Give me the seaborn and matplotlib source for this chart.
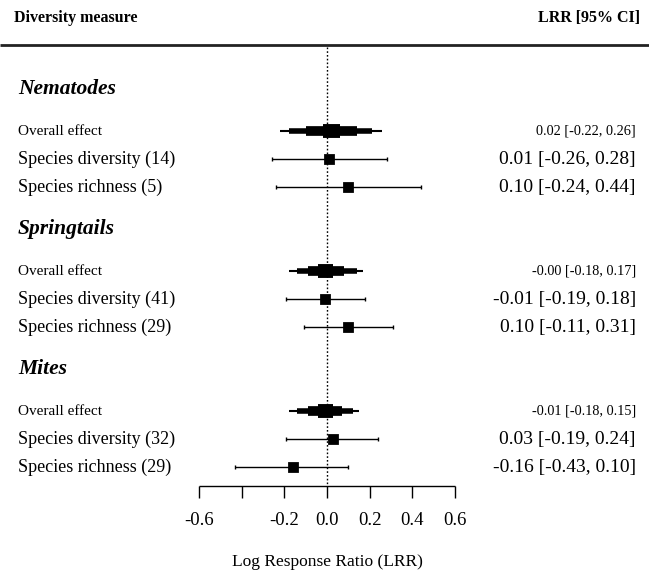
import matplotlib
matplotlib.use("Agg")
import matplotlib.pyplot as plt
import seaborn as sns
import pandas as pd

# data
groups = ["Nematodes", "Springtails", "Mites"]
row_labels = ["Species diversity (14)", "Species richness (5)",
              "Species diversity (41)", "Species richness (29)",
              "Species diversity (32)", "Species richness (29)"]
row_group = ["Nematodes", "Nematodes", "Springtails", "Springtails", "Mites", "Mites"]
row_est = [0.01, 0.10, -0.01, 0.10, 0.03, -0.16]
row_lo = [-0.26, -0.24, -0.19, -0.11, -0.19, -0.43]
row_hi = [0.28, 0.44, 0.18, 0.31, 0.24, 0.10]

overall_est = [0.02, -0.00, -0.01]
overall_lo = [-0.22, -0.18, -0.18]
overall_hi = [0.26, 0.17, 0.15]
overall_txt = ["0.02 [-0.22, 0.26]", "-0.00 [-0.18, 0.17]", "-0.01 [-0.18, 0.15]"]
# inner bands of the overall-effect shapes (lo, hi), widest to narrowest
overall_bands = [
    [(-0.18, 0.21), (-0.10, 0.14), (-0.02, 0.06)],
    [(-0.14, 0.14), (-0.09, 0.08), (-0.04, 0.03)],
    [(-0.14, 0.12), (-0.09, 0.07), (-0.04, 0.03)],
]
band_widths = [4, 7, 10]

ticks = [-0.6, -0.4, -0.2, 0.0, 0.2, 0.4, 0.6]
tick_labels = ["-0.6", "", "-0.2", "0.0", "0.2", "0.4", "0.6"]

sns.set_style("white")
plt.rcParams["font.family"] = ["Liberation Serif", "DejaVu Serif"]
plt.rcParams["text.color"] = "black"

fig = plt.figure(figsize=(6.49, 5.72), dpi=100)
ax = fig.add_axes([0, 0, 1, 1])
ax.set_xlim(-1.535, 1.512)
ax.set_ylim(17.25, -3.18)
ax.axis("off")

# y positions: heading, overall, then rows
rows = []
for g_i, g in enumerate(groups):
    base = g_i * 5
    ax.text(-1.45, base, g, fontsize=15.5, fontweight="bold", fontstyle="italic",
            va="center", ha="left")
    y_ov = base + 1.5
    ax.text(-1.45, y_ov, "Overall effect", fontsize=11, va="center", ha="left")
    ax.text(1.45, y_ov, overall_txt[g_i], fontsize=10.3, va="center", ha="right")
    ax.hlines(y_ov, overall_lo[g_i], overall_hi[g_i], color="black", lw=1.5)
    for (lo, hi), lw in zip(overall_bands[g_i], band_widths):
        ax.hlines(y_ov, lo, hi, color="black", lw=lw)
    k = 0
    for lab, grp, e, lo, hi in zip(row_labels, row_group, row_est, row_lo, row_hi):
        if grp != g:
            continue
        y = base + 2.5 + k
        rows.append({"label": lab, "y": y, "est": e, "lo": lo, "hi": hi})
        k += 1

df = pd.DataFrame(rows)
ax.hlines(df["y"], df["lo"], df["hi"], color="black", lw=1)
ax.vlines(df["lo"], df["y"] - 0.07, df["y"] + 0.07, color="black", lw=1)
ax.vlines(df["hi"], df["y"] - 0.07, df["y"] + 0.07, color="black", lw=1)
sns.scatterplot(data=df, x="est", y="y", marker="s", s=50, color="black",
                edgecolor="black", ax=ax, zorder=3, legend=False)
for _, r in df.iterrows():
    ax.text(-1.45, r["y"], r["label"], fontsize=13, va="center", ha="left")
    ax.text(1.45, r["y"], f"{r['est']:.2f} [{r['lo']:.2f}, {r['hi']:.2f}]",
            fontsize=14, va="center", ha="right")

# header
ax.text(-1.47, -2.54, "Diversity measure", fontsize=11.5, fontweight="bold",
        va="center", ha="left")
ax.text(1.47, -2.54, "LRR [95% CI]", fontsize=11.5, fontweight="bold",
        va="center", ha="right")
ax.hlines(-1.57, -1.535, 1.512, color="#222222", lw=2)

# reference line at zero
ax.vlines(0, -1.5, 14.18, color="black", lw=1, linestyles=(0, (1.2, 1.5)))

# x axis drawn by hand
ax.hlines(14.18, ticks[0], ticks[-1], color="black", lw=1)
ax.vlines(ticks, 14.18, 14.6, color="black", lw=1)
for t, lab in zip(ticks, tick_labels):
    ax.text(t, 15.4, lab, fontsize=13.5, ha="center", va="center")
ax.text(0.0, 16.9, "Log Response Ratio (LRR)", fontsize=12.5, ha="center", va="center")

fig.savefig("out.png", dpi=100, facecolor="white")
